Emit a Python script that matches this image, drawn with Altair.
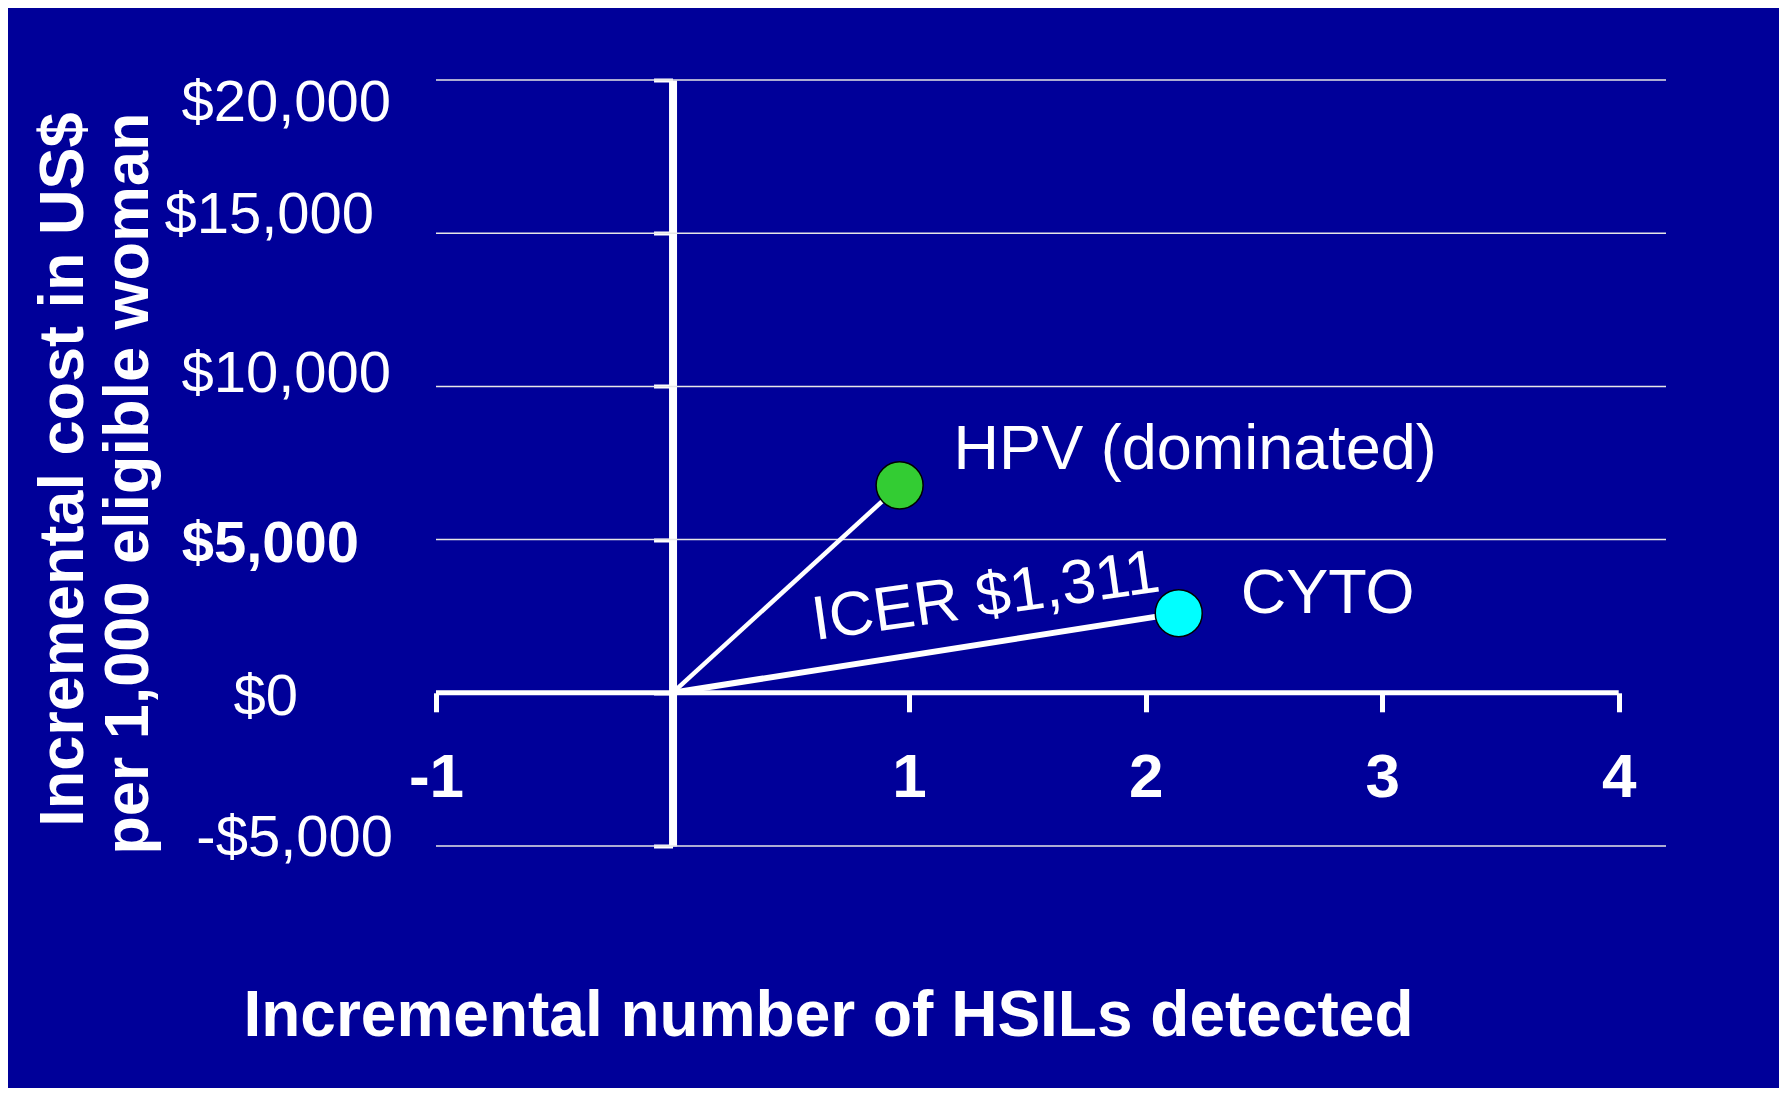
import altair as alt
import pandas as pd

# ---- data ----
strategy_keys = ["HPV", "CYTO"]
strategy_labels = ["HPV (dominated)", "CYTO"]
hsils_detected = [0.96, 2.14]          # incremental number of HSILs detected
incremental_cost = [6770, 2600]        # incremental cost, US$ per 1,000 women
point_colors = ["#33CC33", "#00FFFF"]
icer_text = "ICER $1,311"

x_ticks = [-1, 0, 1, 2, 3, 4]
y_ticks = [-5000, 0, 5000, 10000, 15000, 20000]
x_domain = [-1, 4.2]
y_domain = [-5000, 20000]

x_title = "Incremental number of HSILs detected"
y_title = ["Incremental cost in US$", "per 1,000 eligible woman"]

# ---- layout ----
BG = "#000099"
W, H = 1230, 766
FONT = "Liberation Sans"
x0_px = W * (0 - x_domain[0]) / (x_domain[1] - x_domain[0])
y0_px = H * (y_domain[1] - 0) / (y_domain[1] - y_domain[0])

points = pd.DataFrame({
    "key": strategy_keys,
    "label": strategy_labels,
    "hsils": hsils_detected,
    "cost": incremental_cost,
})
grid = pd.DataFrame({"y": [v for v in y_ticks if v != 0]})
xt = pd.DataFrame({"t": x_ticks})

xscale = alt.Scale(domain=x_domain, nice=False, zero=False)
yscale = alt.Scale(domain=y_domain, nice=False, zero=False)
color_scale = alt.Scale(domain=strategy_keys, range=point_colors)


def cond(mapping, default):
    return {
        "condition": [{"test": f"datum.value == {k}", "value": v} for k, v in mapping.items()],
        "value": default,
    }


y_axis = alt.Axis(
    values=y_ticks,
    orient="left",
    offset=-x0_px,
    domain=True, domainColor="white", domainWidth=8,
    ticks=True, tickSize=19, tickWidth=4, tickColor="white",
    grid=False,
    labelExpr="(datum.value < 0 ? '-' : '') + '$' + format(abs(datum.value), ',')",
    labelFont=FONT, labelFontSize=58, labelColor="white",
    labelAlign="right", labelBaseline="alphabetic", labelLimit=0,
    labelPadding=cond({20000: 263, 15000: 280, 10000: 263, 5000: 295, 0: 356}, 261),
    labelOffset=cond({20000: 40, 15000: -1, 10000: 5, 5000: 22, 0: 22}, 9),
    labelFontWeight=cond({5000: "bold"}, "normal"),
    labelFlush=False, labelOverlap=False,
    title=y_title,
    titleFont=FONT, titleFontSize=63, titleFontWeight="bold", titleColor="white",
    titleAngle=270, titleAlign="right", titleBaseline="alphabetic",
    titleLineHeight=65, titleLimit=0,
    titleX=82 - 436 - x0_px, titleY=32,
)

x_axis = alt.Axis(
    values=x_ticks,
    orient="bottom",
    offset=-(H - y0_px),
    domain=False, grid=False,
    ticks=True, tickSize=19, tickWidth=5, tickColor="white",
    labelExpr="datum.value == 0 ? '' : '' + datum.value",
    labelFont=FONT, labelFontSize=62, labelFontWeight="bold", labelColor="white",
    labelBaseline="alphabetic", labelPadding=85, labelLimit=0,
    labelFlush=False, labelOverlap=False,
    title=x_title,
    titleFont=FONT, titleFontSize=64, titleFontWeight="bold", titleColor="white",
    titleAlign="center", titleBaseline="alphabetic", titleLimit=0,
    titleX=392, titleY=1035 - 80 - y0_px,
)

gridlines = alt.Chart(grid).mark_rule(color="#E6E6E6", strokeWidth=1.5).encode(
    y=alt.Y("y:Q", scale=yscale, axis=y_axis)
)

x_axis_line = alt.Chart(xt).mark_rule(color="white", strokeWidth=5).encode(
    x=alt.X("min(t):Q"),
    x2="max(t):Q",
    y=alt.datum(0),
)

rays = alt.Chart(points).mark_rule(color="white").encode(
    x=alt.X("hsils:Q"),
    y=alt.Y("cost:Q"),
    x2=alt.datum(0),
    y2=alt.datum(0),
    strokeWidth=alt.StrokeWidth("key:N", scale=alt.Scale(domain=strategy_keys, range=[4.5, 6]), legend=None),
)

dots = alt.Chart(points).mark_circle(size=2209, opacity=1, stroke="black", strokeWidth=1.5).encode(
    x=alt.X("hsils:Q", scale=xscale, axis=x_axis),
    y=alt.Y("cost:Q"),
    color=alt.Color("key:N", scale=color_scale, legend=None),
)

text_style = dict(font=FONT, fontSize=63, color="white", align="left", baseline="alphabetic")

hpv_label = alt.Chart(points).transform_filter("datum.key == 'HPV'").mark_text(
    dx=54, dy=-16, **text_style
).encode(x="hsils:Q", y="cost:Q", text="label:N")

cyto_label = alt.Chart(points).transform_filter("datum.key == 'CYTO'").mark_text(
    dx=62, dy=0, **text_style
).encode(x="hsils:Q", y="cost:Q", text="label:N")

icer_label = alt.Chart(points).transform_filter("datum.key == 'CYTO'").mark_text(
    font=FONT, fontSize=62, color="white", align="left", baseline="alphabetic",
    angle=352, dx=-364, dy=-24, text=icer_text,
).encode(x="hsils:Q", y="cost:Q")

chart = alt.layer(
    gridlines, x_axis_line, rays, dots, hpv_label, cyto_label, icer_label
).properties(
    width=W, height=H,
    background=BG,
    autosize=alt.AutoSizeParams(type="none"),
    padding={"left": 428, "top": 72, "right": 113, "bottom": 242},
).configure_view(stroke=None)

chart.save("out.html", embed_options={"renderer": "svg", "actions": False})
